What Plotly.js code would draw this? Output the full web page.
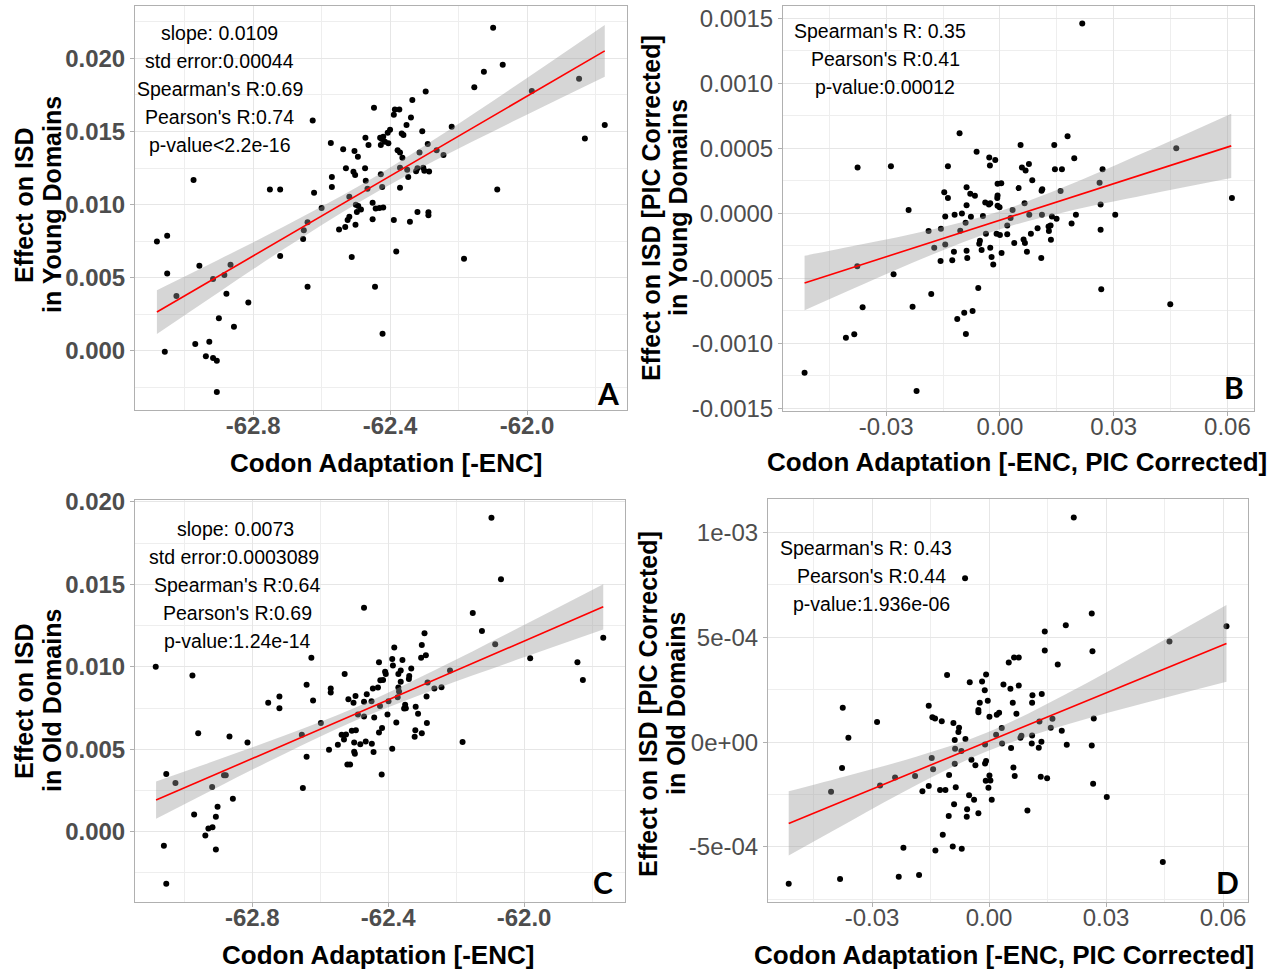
<!DOCTYPE html>
<html><head><meta charset="utf-8">
<script src="https://cdn.plot.ly/plotly-3.0.1.min.js"></script>
<style>html,body{margin:0;padding:0;background:#fff}#chart{width:1286px;height:972px}</style>
</head><body><div id="chart"></div>
<script>
// ---------- Panel A: young domains, raw ----------
const aX = [-62.099,-62.071,-62.126,-62.154,-61.848,-61.986,-62.296,-62.335,-61.773,-61.831,
-62.220,-62.447,-62.386,-62.373,-62.389,-62.339,-62.352,-62.626,-62.400,-62.407,
-62.420,-62.429,-62.366,-62.361,-62.306,-62.573,-62.472,-62.463,-62.424,-62.415,
-62.405,-62.427,-62.537,-62.504,-62.494,-62.378,-62.371,-62.290,-62.314,-62.264,
-62.244,-62.364,-62.529,-62.507,-62.502,-62.473,-62.427,-62.371,-62.350,-62.347,
-62.324,-62.320,-62.303,-62.300,-62.286,-62.570,-62.570,-62.471,-62.466,-62.423,
-62.371,-62.974,-62.751,-62.721,-62.622,-62.087,-62.519,-62.600,-62.500,-62.493,
-62.485,-62.497,-62.451,-62.442,-62.431,-62.420,-62.320,-62.288,-62.288,-62.519,
-62.524,-62.451,-62.389,-62.342,-62.501,-62.531,-62.549,-62.641,-62.652,-62.654,
-63.081,-63.051,-62.512,-62.721,-62.382,-62.184,-62.957,-62.866,-63.051,-62.884,
-62.917,-63.024,-62.878,-62.641,-62.444,-62.814,-62.900,-62.856,-62.422,-62.969,
-62.928,-63.058,-62.938,-62.917,-62.906,-62.906];
const aY = [0.0221,0.01957,0.01909,0.01802,0.01861,0.01777,0.01774,0.01715,0.01544,0.01453,
0.01533,0.01663,0.01651,0.01651,0.01615,0.01596,0.01544,0.01576,0.01512,0.01492,
0.01464,0.01457,0.01487,0.01476,0.01501,0.01421,0.01457,0.01407,0.01448,0.0143,
0.01419,0.01407,0.01378,0.01366,0.01327,0.01371,0.01357,0.01414,0.01357,0.01371,
0.01339,0.01321,0.01248,0.01225,0.01202,0.01248,0.01207,0.01252,0.01238,0.01188,
0.01229,0.01248,0.01252,0.01232,0.01227,0.01188,0.0112,0.01163,0.01109,0.0112,
0.01115,0.01168,0.01104,0.01104,0.01081,0.01104,0.01054,0.00976,0.00999,0.0099,
0.00967,0.00949,0.01013,0.00974,0.00976,0.00981,0.00949,0.00947,0.00928,0.00917,
0.00894,0.00899,0.00894,0.00883,0.00862,0.00846,0.0083,0.0088,0.00824,0.00764,
0.00748,0.00787,0.00641,0.00648,0.0068,0.0063,0.00582,0.00589,0.00529,0.00518,
0.00491,0.00374,0.0039,0.00438,0.00438,0.00331,0.00222,0.00165,0.00117,0.00046,
0.00062,-0.00006,-0.00038,-0.0005,-0.00068,-0.00282];
const aFitX = [-63.081,-62.901,-62.707,-62.483,-62.269,-62.025,-61.773];
const aFitY = [0.00265,0.00511,0.00777,0.01082,0.01375,0.01707,0.02052];
const aLo   = [0.00115,0.00399,0.00701,0.01027,0.01301,0.01587,0.01875];
const aHi   = [0.00415,0.00623,0.00853,0.01137,0.01449,0.01827,0.02229];
const aStats = ["slope: 0.0109","std error:0.00044","Spearman's R:0.69","Pearson's R:0.74","p-value<2.2e-16"];

// ---------- Panel B: young domains, PIC corrected ----------
const bX = [0.02171,-0.01064,0.01784,-0.00615,0.00545,0.01433,0.0465,-0.03753,-0.02874,-0.01371,
-0.00281,-0.00123,-0.00264,0.0196,0.0058,0.00677,0.00765,0.0145,0.01635,0.02707,
0.00853,0.00492,-0.00062,0.00035,-0.00879,-0.01468,-0.01371,-0.00782,-0.00659,-0.00062,
-0.0007,-0.00879,-0.00387,-0.0029,-0.00255,-0.00062,-0.0001,0.01116,0.01099,0.016,
0.02628,0.02655,0.06118,-0.02408,0.0065,-0.01195,-0.01002,-0.01442,-0.00765,-0.00448,
0.00334,0.00281,0.00774,0.01108,0.01371,0.01494,0.02004,0.03041,-0.00905,0.00193,
0.01336,0.01283,0.0189,-0.01881,-0.01556,-0.01046,-0.00369,-0.00088,0,0.00193,
0.01292,0.02655,-0.01732,-0.01442,-0.00527,-0.00545,0.00378,0.00624,0.00659,0.00817,
0.01345,0.00993,-0.01213,-0.00879,-0.00483,-0.00255,0.00044,0.00712,-0.01565,-0.01257,
-0.00861,-0.0022,-0.00176,0.0109,-0.03762,-0.02804,-0.00571,-0.01811,0.02672,-0.03621,
-0.02303,0.04492,-0.00721,-0.00941,-0.01125,-0.04061,-0.03841,-0.00897,-0.05151,-0.02198];
const bY = [0.001462,0.000617,0.000594,0.000474,0.000527,0.000527,0.000502,0.000353,0.000364,0.000364,
0.00043,0.000412,0.000369,0.000425,0.000353,0.00033,0.000381,0.00034,0.00034,0.00034,
0.000256,0.000195,0.000228,0.000233,0.000202,0.000164,0.000118,0.000151,0.000136,0.000138,
0.000118,0.000064,0.0000845,0.0000691,0.0000794,0.0000589,0.0000486,0.000187,0.000174,0.000172,
0.000236,0.0000691,0.000118,0.0000256,0.0000794,-0.0000102,0,-0.000023,-0.0000256,-0.0000205,
0.0000256,-0.0000358,-0.0000102,-0.0000102,-0.000023,-0.000041,-0.0000102,-0.0000102,-0.0000717,-0.0000922,
-0.0000922,-0.0000998,-0.0000768,-0.000136,-0.000118,-0.000133,-0.000156,-0.000156,-0.000166,-0.000161,
-0.000136,-0.000125,-0.000264,-0.000238,-0.00021,-0.000233,-0.000228,-0.0002,-0.000228,-0.000156,
-0.000202,-0.000113,-0.000294,-0.000287,-0.000282,-0.000264,-0.000305,-0.000294,-0.000366,-0.000361,
-0.000343,-0.000335,-0.000392,-0.000343,-0.000407,-0.000468,-0.000573,-0.00062,-0.000584,-0.000722,
-0.000717,-0.000699,-0.00075,-0.000765,-0.000812,-0.000957,-0.000929,-0.000927,-0.001226,-0.001367];
const bFitX = [-0.05151,-0.03604,-0.01846,-0.00062,0.0167,0.03868,0.061];
const bFitY = [-0.000535,-0.00039,-0.000225,-0.0000579,0.000104,0.00031,0.00052];
const bLo   = [-0.000744,-0.000544,-0.000323,-0.000127,0.0000081,0.000143,0.000272];
const bHi   = [-0.000326,-0.000236,-0.000127,0.0000112,0.000201,0.000477,0.000768];
const bStats = ["Spearman's R: 0.35","Pearson's R:0.41","p-value:0.00012"];

// ---------- Panel C: old domains, raw ----------
const cX = [-62.096,-62.068,-62.471,-62.151,-62.124,-62.085,-62.293,-62.301,-62.289,-62.303,
-61.767,-61.982,-61.843,-61.827,-62.626,-63.084,-62.976,-62.382,-62.388,-62.358,
-62.427,-62.386,-62.332,-62.370,-62.363,-62.338,-62.409,-62.407,-62.415,-62.423,
-62.430,-62.445,-62.363,-62.370,-62.368,-62.339,-62.284,-62.264,-62.243,-62.218,
-62.287,-62.528,-62.640,-62.569,-62.569,-62.517,-62.502,-62.496,-62.463,-62.449,
-62.471,-62.424,-62.399,-62.372,-62.350,-62.348,-62.353,-62.319,-62.312,-62.489,
-62.471,-62.441,-62.402,-62.376,-62.753,-62.720,-62.720,-62.621,-62.598,-62.959,
-62.867,-62.814,-62.654,-62.537,-62.524,-62.530,-62.507,-62.495,-62.320,-62.301,
-62.322,-62.286,-62.418,-62.427,-62.500,-62.482,-62.466,-62.448,-62.574,-62.548,
-62.500,-62.498,-62.443,-62.388,-62.181,-62.640,-62.520,-62.512,-62.419,-63.053,
-63.026,-62.883,-62.878,-62.918,-62.651,-62.857,-62.902,-62.971,-62.907,-62.929,
-62.917,-62.938,-63.060,-62.907,-63.053];
const cY = [0.01905,0.01531,0.01359,0.01327,0.01218,0.01137,0.01204,0.01133,0.01071,0.01056,
0.01176,0.01052,0.01028,0.00921,0.01056,0.01,0.00947,0.01117,0.01048,0.01042,
0.01028,0.01008,0.0099,0.00957,0.00978,0.00945,0.0097,0.00957,0.00921,0.00919,
0.00875,0.00869,0.00909,0.00875,0.0085,0.00927,0.00905,0.00869,0.00877,0.00978,
0.0082,0.00957,0.00891,0.00869,0.00844,0.00804,0.00782,0.00824,0.00834,0.00792,
0.00788,0.00762,0.00792,0.00816,0.0077,0.00749,0.00747,0.00758,0.00715,0.00711,
0.00699,0.00693,0.00711,0.00663,0.00782,0.0082,0.00749,0.00796,0.00659,0.00598,
0.00578,0.00541,0.00588,0.00588,0.0059,0.0056,0.00612,0.00616,0.00616,0.00598,
0.00576,0.00659,0.0063,0.00602,0.00541,0.00531,0.00547,0.00533,0.00497,0.00527,
0.00485,0.00473,0.00483,0.00503,0.00545,0.00455,0.00408,0.00408,0.00347,0.00351,
0.00295,0.00343,0.00343,0.00271,0.00265,0.002,0.00152,0.00105,0.00091,0.0002,
0.00028,-0.00022,-0.00085,-0.00107,-0.00315];
const cFitX = [-63.083,-62.900,-62.703,-62.496,-62.262,-62.016,-61.767];
const cFitY = [0.00192,0.00355,0.0053,0.00714,0.00923,0.01142,0.01364];
const cLo   = [0.00079,0.00272,0.00475,0.00674,0.00865,0.01047,0.01227];
const cHi   = [0.00305,0.00438,0.00585,0.00754,0.00981,0.01237,0.01501];
const cStats = ["slope: 0.0073","std error:0.0003089","Spearman's R:0.64","Pearson's R:0.69","p-value:1.24e-14"];

// ---------- Panel D: old domains, PIC corrected ----------
const dX = [0.02172,-0.00616,0.02633,0.01967,0.06088,0.01428,0.04626,0.01428,0.02651,0.01761,
0.00504,0.00641,0.00761,-0.01077,-0.00077,-0.00496,-0.0018,-0.00111,0.00368,0.00547,
0.00761,-0.00034,-0.00239,-0.00274,-0.00274,0.00009,0.00197,0.00257,0.00607,0.00701,
0.01112,0.01351,0.01103,-0.03753,-0.01548,-0.01454,-0.01385,-0.01214,-0.02873,-0.00915,
-0.0077,-0.00787,-0.00881,-0.00607,-0.03608,0.00325,0.0018,0.00333,-0.00103,0.00829,
0.00804,0.01103,0.01094,0.01291,0.01342,0.01274,0.01625,0.01582,0.01864,0.01992,
0.02685,0.02633,0.00564,-0.00872,-0.0071,-0.00881,-0.00453,-0.00351,-0.00077,-0.00103,
-0.01471,-0.01436,-0.01898,-0.02411,-0.02796,-0.01026,-0.03771,-0.04053,0.00009,0.00034,
-0.00086,-0.00017,-0.01548,-0.0171,-0.01257,-0.0112,-0.00855,0.00624,0.00658,0.01325,
0.01488,0.02668,0.03018,-0.00513,-0.00385,0.00068,-0.00898,-0.00564,-0.00573,-0.00274,
-0.01035,0.00983,-0.01188,-0.02197,-0.01377,-0.00932,-0.00701,0.04455,-0.02317,-0.01796,
-0.03822,-0.05139];
const dY = [0.001072,0.000782,0.000614,0.000558,0.000553,0.000528,0.00048,0.000437,0.000434,0.00037,
0.00038,0.000404,0.000404,0.00032,0.000323,0.000286,0.000289,0.000248,0.000275,0.000254,
0.00027,0.000197,0.000188,0.000153,0.000142,0.000121,0.00013,0.00014,0.000188,0.000135,
0.000224,0.000229,0.000188,0.000164,0.000173,0.000119,0.000113,0.0001,0.0000954,0.0000906,
0.0000684,0.0000477,0.0000095,0.0000143,0.0000207,0.0000668,0.000035,-0.0000064,-0.0000111,0.0000302,
0.0000207,0.0000318,-0.0000064,0.0000986,0.0000016,-0.000027,0.000111,0.0000684,0.0000541,-0.0000127,
0.000113,-0.0000159,-0.0000286,-0.0000318,-0.0000429,-0.000103,-0.0000843,-0.00011,-0.0000906,-0.000102,
-0.0000763,-0.00013,-0.000162,-0.000169,-0.000207,-0.000157,-0.000124,-0.000237,-0.000159,-0.000183,
-0.000184,-0.000218,-0.00021,-0.000234,-0.000229,-0.000229,-0.000215,-0.000121,-0.000162,-0.000165,
-0.000173,-0.000199,-0.000262,-0.000254,-0.000275,-0.000275,-0.000296,-0.000321,-0.000356,-0.00034,
-0.000353,-0.000326,-0.000442,-0.000504,-0.000517,-0.000498,-0.000509,-0.000572,-0.000642,-0.000634,
-0.000653,-0.000676];
const dFitX = [-0.05139,-0.03582,-0.01872,-0.00068,0.01975,0.04113,0.06088];
const dFitY = [-0.000388,-0.000269,-0.000138,-0.0000002,0.000156,0.00032,0.000471];
const dLo   = [-0.000541,-0.00038,-0.000206,-0.0000447,0.0000822,0.000192,0.000288];
const dHi   = [-0.000235,-0.000158,-0.0000698,0.0000443,0.00023,0.000448,0.000654];
const dStats = ["Spearman's R: 0.43","Pearson's R:0.44","p-value:1.936e-06"];

// ---------- tick labels ----------
const encTicks = [-62.8,-62.4,-62.0];
const encTickText = ["-62.8","-62.4","-62.0"];
const encMinor = [-63.0,-62.6,-62.2,-61.8];
const picTicks = [-0.03,0,0.03,0.06];
const picTickText = ["-0.03","0.00","0.03","0.06"];
const picMinor = [-0.045,-0.015,0.015,0.045];
const aYTicks = [0,0.005,0.01,0.015,0.02];
const aYText = ["0.000","0.005","0.010","0.015","0.020"];
const aYMinor = [-0.0025,0.0025,0.0075,0.0125,0.0175,0.0225];
const bYTicks = [-0.0015,-0.001,-0.0005,0,0.0005,0.001,0.0015];
const bYText = ["-0.0015","-0.0010","-0.0005","0.0000","0.0005","0.0010","0.0015"];
const bYMinor = [-0.00125,-0.00075,-0.00025,0.00025,0.00075,0.00125];
const cYTicks = [0,0.005,0.01,0.015,0.02];
const cYText = ["0.000","0.005","0.010","0.015","0.020"];
const cYMinor = [-0.0025,0.0025,0.0075,0.0125,0.0175];
const dYTicks = [-0.0005,0,0.0005,0.001];
const dYText = ["-5e-04","0e+00","5e-04","1e-03"];
const dYMinor = [-0.00075,-0.00025,0.00025,0.00075];

const W = 1286, H = 972;
const PX = p => p / W, PY = p => 1 - p / H;
const FONT = "Liberation Sans, Arial, Helvetica, sans-serif";

const panels = [
  {x:aX,y:aY,fx:aFitX,fy:aFitY,lo:aLo,hi:aHi,xa:'x',ya:'y'},
  {x:bX,y:bY,fx:bFitX,fy:bFitY,lo:bLo,hi:bHi,xa:'x2',ya:'y2'},
  {x:cX,y:cY,fx:cFitX,fy:cFitY,lo:cLo,hi:cHi,xa:'x3',ya:'y3'},
  {x:dX,y:dY,fx:dFitX,fy:dFitY,lo:dLo,hi:dHi,xa:'x4',ya:'y4'}
];

const data = [];
panels.forEach(p => {
  data.push({type:'scatter',mode:'markers',x:p.x,y:p.y,xaxis:p.xa,yaxis:p.ya,
    marker:{color:'#000',size:6},hoverinfo:'skip',showlegend:false});
  data.push({type:'scatter',mode:'lines',x:p.fx,y:p.lo,xaxis:p.xa,yaxis:p.ya,
    line:{width:0,shape:'spline'},hoverinfo:'skip',showlegend:false});
  data.push({type:'scatter',mode:'lines',x:p.fx,y:p.hi,xaxis:p.xa,yaxis:p.ya,
    line:{width:0,shape:'spline'},fill:'tonexty',fillcolor:'rgba(153,153,153,0.4)',hoverinfo:'skip',showlegend:false});
  data.push({type:'scatter',mode:'lines',x:p.fx,y:p.fy,xaxis:p.xa,yaxis:p.ya,
    line:{width:1.6,color:'#ff0000'},hoverinfo:'skip',showlegend:false});
});

function axis(domain, range, tv, tt, mv, anchor, bold, isX){
  const a = {domain:domain, range:range, tickmode:'array', tickvals:tv, ticktext:tt,
    showgrid:true, gridcolor:'#e6e6e6', gridwidth:1,
    minor:{tickmode:'array', tickvals:mv, showgrid:true, gridcolor:'#eeeeee', gridwidth:1, ticks:''},
    zeroline:false, showline:true, mirror:true, linecolor:'#b0b0b0', linewidth:1,
    ticks:'outside', ticklen:4, tickcolor:'#b0b0b0', tickwidth:1,
    tickfont:{family:FONT, size:24, color:'#4d4d4d', weight: bold ? 'bold' : 'normal'},
    anchor:anchor, fixedrange:true};
  if (isX) a.ticklabelstandoff = -10;
  return a;
}

const annotations = [];
function txt(text, x, y, size, opts){
  annotations.push(Object.assign({text:text, x:PX(x), y:PY(y), xref:'paper', yref:'paper',
    showarrow:false, xanchor:'center', yanchor:'middle',
    font:{family:FONT, size:size, color:'#000'}}, opts||{}));
}
// statistics text
aStats.forEach((s,i)=>txt(s, 220, 33+28*i, 19.5));
bStats.forEach((s,i)=>txt(s, [880,885,885][i], 31+28*i, 19.5));
cStats.forEach((s,i)=>txt(s, [235,234,236.5,237.5,237][i], 529+28*i, 19.5));
dStats.forEach((s,i)=>txt(s, [865.5,871,871][i], 548+28*i, 19.5));
// panel letters
const LETTER = {family:"Lato, Open Sans, sans-serif", size:30, color:'#000', weight:'bold'};
[["A",608,393],["B",1234,387],["C",603,882],["D",1227,882]].forEach(l=>{
  txt(l[0], l[1], l[2], 30, {font:LETTER});
});
// axis titles
const TB = {family:FONT, size:26, color:'#000', weight:'bold'};
txt("Codon Adaptation [-ENC]", 386, 463, 26, {font:TB});
txt("Codon Adaptation [-ENC, PIC Corrected]", 1017, 462, 26, {font:TB});
txt("Codon Adaptation [-ENC]", 378, 955, 26, {font:TB});
txt("Codon Adaptation [-ENC, PIC Corrected]", 1004, 955, 26, {font:TB});
const TY = {family:FONT, size:25, color:'#000', weight:'bold'};
txt("Effect on ISD", 24, 205, 25, {font:TY, textangle:-90});
txt("in Young Domains", 52, 205, 25, {font:TY, textangle:-90});
txt("Effect on ISD [PIC Corrected]", 651, 208, 25, {font:TY, textangle:-90});
txt("in Young Domains", 678, 208, 25, {font:TY, textangle:-90});
txt("Effect on ISD", 24, 701, 25, {font:TY, textangle:-90});
txt("in Old Domains", 52, 701, 25, {font:TY, textangle:-90});
txt("Effect on ISD [PIC Corrected]", 648, 704, 25, {font:TY, textangle:-90});
txt("in Old Domains", 676, 704, 25, {font:TY, textangle:-90});

const layout = {
  width:W, height:H, margin:{l:0,r:0,t:0,b:0}, paper_bgcolor:'#fff', plot_bgcolor:'#fff',
  showlegend:false,
  xaxis: axis([PX(135),PX(627)], [-63.145,-61.708], encTicks, encTickText, encMinor, 'y', true, true),
  yaxis: axis([PY(410),PY(5.5)], [-0.00405,0.02362], aYTicks, aYText, aYMinor, 'x', true, false),
  xaxis2: axis([PX(783),PX(1254)], [-0.0572,0.067], picTicks, picTickText, picMinor, 'y2', false, true),
  yaxis2: axis([PY(411),PY(5.5)], [-0.00152,0.0016], bYTicks, bYText, bYMinor, 'x2', false, false),
  xaxis3: axis([PX(135),PX(625)], [-63.145,-61.703], encTicks, encTickText, encMinor, 'y3', true, true),
  yaxis3: axis([PY(902),PY(500)], [-0.00426,0.02012], cYTicks, cYText, cYMinor, 'x3', true, false),
  xaxis4: axis([PX(768),PX(1248)], [-0.0567,0.0664], picTicks, picTickText, picMinor, 'y4', false, true),
  yaxis4: axis([PY(902),PY(499)], [-0.000763,0.00116], dYTicks, dYText, dYMinor, 'x4', false, false),
  annotations: annotations
};

Plotly.newPlot('chart', data, layout, {staticPlot:true, displayModeBar:false});
</script>
</body></html>
